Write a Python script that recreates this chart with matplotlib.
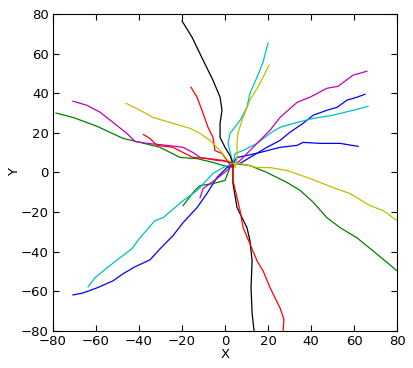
import numpy as np
from matplotlib import pyplot as plt

# trajectoires, toutes partent du centre
x_b1 = [3.7, 7, 11.6, 19.5, 25.6, 30.2, 36.3, 41, 47.4, 52.1, 56.7, 61.4, 65.1]
y_b1 = [4.6, 4.6, 7.6, 12.7, 16.2, 20.3, 24.8, 28.9, 31.4, 32.9, 36.5, 38, 39.5]
x_g1 = [3.7, 2.3, -5.6, -13, -20.9, -30.2, -39.5, -47.4, -59.5, -70.7, -78.6]
y_g1 = [4.6, 2.5, 5.1, 7, 7.6, 12.7, 15.2, 17.2, 23.3, 27.8, 30]
x_r1 = [3.7, 3.3, 0.9, -1.4, -4.7, -5.6, -7.9, -10.2, -13, -15.8]
y_r1 = [4.6, 2.5, 6.1, 9.6, 11.1, 17.7, 22.8, 29.9, 38, 43]
x_c1 = [3.7, 3.3, 1.4, 2.3, 7, 10.2, 11.6, 14.9, 17.7, 20]
y_c1 = [4.6, 6.1, 14.7, 19.7, 26.3, 32.9, 40, 48.1, 55.7, 65.3]
x_m1 = [3.7, 2.5, -3.7, -11.6, -14.9, -19.5, -27, -36.3, -41.9, -45.6, -52.1, -58.1, -64.2, -70.7]
y_m1 = [4.6, 5.5, 6.1, 7.6, 10.1, 12.7, 13.7, 14.7, 15.7, 19.7, 25.3, 30.4, 33.9, 36]
x_y1 = [3.7, 1.4, -2.3, -7, -11.6, -16.3, -24.2, -33.5, -39.5, -46]
y_y1 = [4.6, 6.1, 11.1, 16.2, 19.7, 22.3, 24.8, 27.8, 31.4, 34.9]
x_k1 = [3.7, 2.3, 0, -2.3, -2.3, -1.4, -2.3, -5.6, -10.2, -15.3, -20]
y_k1 = [4.6, 8.6, 12.7, 17.7, 24.8, 31.4, 38, 46.6, 56.7, 68.2, 76.5]
x_b2 = [3.7, 5.6, 10.2, 16.3, 25.6, 33.5, 36.3, 44.2, 53.5, 61.9]
y_b2 = [4.6, 7.6, 8.6, 10.1, 12.7, 13.7, 15.2, 14.7, 14.7, 13.2]
x_g2 = [3.7, 11.6, 19.5, 28.8, 34.9, 41, 47.4, 53.5, 61.4, 68.8, 80]
y_g2 = [4.6, 3.5, 0, -5, -9, -15, -22.8, -27.8, -33, -39.5, -49.6]
x_r2 = [3.7, 0.5, -0.9, -8.4, -14.9, -19.5, -24.2, -31.6, -34.9, -38]
y_r2 = [4.6, 5.5, 6.1, 7.1, 7.6, 10.1, 12.7, 13.7, 17.2, 19.2]
x_c2 = [3.7, 4.7, 8.4, 14.9, 20.9, 25.6, 33.5, 41, 50.2, 61.4, 66.5]
y_c2 = [4.6, 9.6, 11.1, 14.7, 19.7, 22.8, 25.3, 27.3, 28.9, 31.9, 33.4]
x_m2 = [3.7, 5.6, 8.4, 14.9, 20.9, 25.6, 33.5, 39.5, 47.4, 52.6, 59.5, 66]
y_m2 = [4.6, 4.6, 7.6, 14.7, 21.3, 27.8, 35.4, 38, 42.5, 43.5, 49.1, 51.1]
x_y2 = [3.7, 4.7, 5.6, 5.6, 6, 7.9, 11.6, 16.3, 20.5]
y_y2 = [4.6, 2.5, 7.6, 14.7, 19.7, 26.3, 36.5, 45, 54.2]
x_k2 = [3.7, 3.7, 5.6, 10.2, 11.6, 12.6, 12.1, 12.6, 13.5]
y_k2 = [4.6, -5.6, -17.7, -27.8, -34.4, -44.6, -58, -71, -80]
x_b3 = [3.7, 0.9, -3.7, -8.4, -13, -19.5, -24.2, -30.2, -34.9, -41.9, -47.4, -52.1, -59.5, -66, -70.7]
y_b3 = [4.6, 2.5, -2.5, -10.6, -17.7, -25.3, -31.9, -38.5, -44.1, -47.6, -51.1, -54.7, -58.2, -60.8, -61.8]
x_g3 = [3.7, 2.3, 0, -5.6, -11.6, -14, -19.5]
y_g3 = [4.6, 2.5, -4, -5.6, -6.6, -9, -16.7]
x_r3 = [3.7, 3.7, 7, 8.4, 11.6, 14.9, 17.7, 20.9, 25.6, 27.4, 27]
y_r3 = [4.6, -4, -19.2, -27.8, -36, -44.6, -49.6, -58, -68.4, -74, -80]
x_c3 = [3.7, -0.9, -5.6, -13, -19.5, -28.8, -32.6, -39.5, -43.3, -48.8, -54.9, -60.5, -63.7]
y_c3 = [4.6, 2.5, -0.5, -9.1, -14.2, -22.8, -24.3, -32.9, -38.5, -43, -48.1, -53.2, -57.7]
x_m3 = [3.7, 0.9, -3.7, -7, -10.2, -11.6]
y_m3 = [4.6, 1, -3, -5.6, -8.1, -12.7]
x_y3 = [3.7, 7, 14.9, 20.9, 28.8, 39.5, 50.2, 58.1, 67.4, 73.5, 80]
y_y3 = [4.6, 4.6, 2.5, 2.5, 1, -3, -7.6, -10.6, -16.7, -19.2, -24.3]

traj = [(x_b1, y_b1), (x_g1, y_g1), (x_r1, y_r1), (x_c1, y_c1), (x_m1, y_m1),
        (x_y1, y_y1), (x_k1, y_k1),
        (x_b2, y_b2), (x_g2, y_g2), (x_r2, y_r2), (x_c2, y_c2), (x_m2, y_m2),
        (x_y2, y_y2), (x_k2, y_k2),
        (x_b3, y_b3), (x_g3, y_g3), (x_r3, y_r3), (x_c3, y_c3), (x_m3, y_m3),
        (x_y3, y_y3)]
couleurs = [(0, 0, 1), (0, 0.5, 0), (1, 0, 0), (0, 0.75, 0.75),
            (0.75, 0, 0.75), (0.75, 0.75, 0), (0, 0, 0)]

plt.rcParams['font.size'] = 9.5
fig = plt.figure(figsize=(4.14, 3.68), dpi=100)
ax = fig.add_axes([0.128, 0.1005, 0.831, 0.8615])

for i, (xs, ys) in enumerate(traj):
    ax.plot(xs, ys, color=couleurs[i % 7], lw=0.9)

ax.set_xlim(-80, 80)
ax.set_ylim(-80, 80)
ax.set_xticks(np.arange(-80, 81, 20))
ax.set_yticks(np.arange(-80, 81, 20))
ax.tick_params(direction='in', top=True, right=True, length=4, pad=3)
ax.set_xlabel('X', labelpad=0)
ax.set_ylabel('Y', labelpad=0)

fig.savefig('out.png', dpi=100)
